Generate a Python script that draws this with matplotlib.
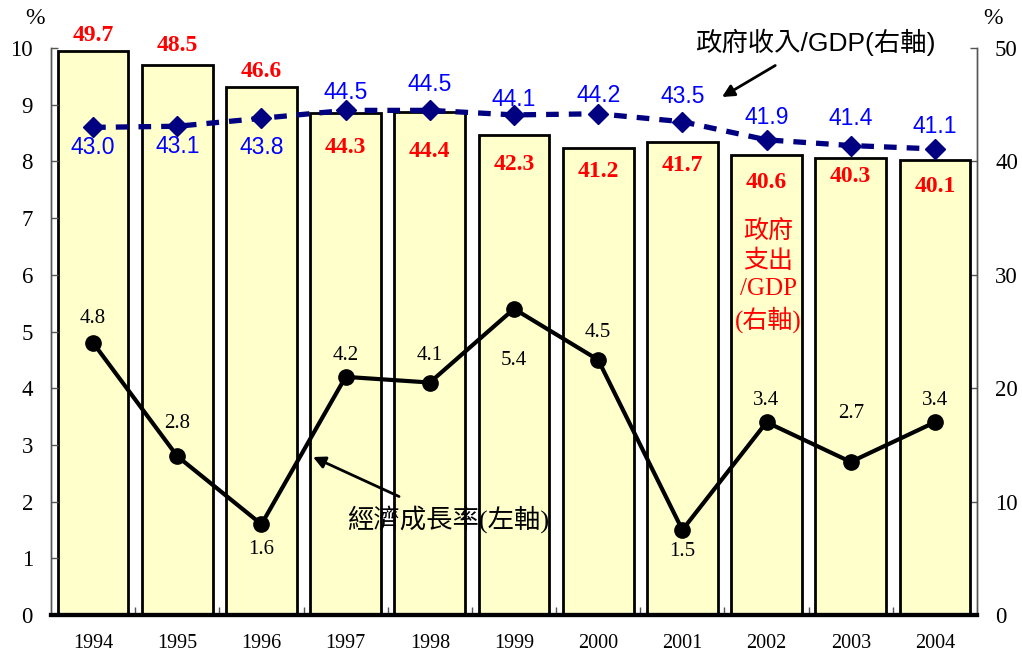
import matplotlib.pyplot as plt
import numpy as np

plt.rcParams['font.family'] = ['Liberation Serif', 'Noto Sans CJK TC']

years = ["1994", "1995", "1996", "1997", "1998", "1999", "2000", "2001", "2002", "2003", "2004"]
spending = [49.7, 48.5, 46.6, 44.3, 44.4, 42.3, 41.2, 41.7, 40.6, 40.3, 40.1]
revenue = [43.0, 43.1, 43.8, 44.5, 44.5, 44.1, 44.2, 43.5, 41.9, 41.4, 41.1]
growth = [4.8, 2.8, 1.6, 4.2, 4.1, 5.4, 4.5, 1.5, 3.4, 2.7, 3.4]

# label offsets in pixels (positive = above the point)
spend_dy = [16, 20, 15, -35, -40, -29, -24, -23, -28, -19, -26]
rev_dy = [-20, -20, -29, 18, 26, 15, 18, 25, 22, 27, 22]
growth_dy = [24, 33, -25, 21, 27, -52, 27, -22, 22, 48, 22]

cjk_sans = ['Liberation Sans', 'Noto Sans CJK TC']
cjk_serif = ['Liberation Serif', 'Noto Sans CJK TC']


def main():
    x = np.arange(len(years))
    fig = plt.figure(figsize=(10.22, 6.61), dpi=100)
    ax = fig.add_axes([51 / 1022, 46 / 661, 926 / 1022, 567 / 661])
    ax2 = ax.twinx()

    # bars + revenue on the right axis
    ax2.bar(x, spending, width=0.84, color="#FFFFCC", edgecolor="black", linewidth=2, zorder=2)
    ax2.plot(x, revenue, color="#000080", linestyle=(0, (2.4, 1.9)), linewidth=3.8,
             dash_capstyle="butt", marker="D", markersize=10, zorder=3)
    ax2.set_ylim(0, 50)
    ax2.set_yticks(range(0, 51, 10))

    for xi, v, dy in zip(x, spending, spend_dy):
        ax2.annotate(f"{v:.1f}", (xi, v), xytext=(0, dy), textcoords="offset pixels",
                     ha="center", va="center", color="red", fontsize=17, fontweight="bold")

    for xi, v, dy in zip(x, revenue, rev_dy):
        ax2.annotate(f"{v:.1f}", (xi, v), xytext=(0, dy), textcoords="offset pixels",
                     ha="center", va="center", color="blue", fontsize=16.5,
                     family="Liberation Sans")

    # growth on the left axis, drawn above the bars
    ax.set_zorder(ax2.get_zorder() + 1)
    ax.patch.set_visible(False)
    ax.plot(x, growth, color="black", linewidth=3, marker="o", markersize=11, zorder=4)
    for xi, v, dy in zip(x, growth, growth_dy):
        ax.annotate(f"{v:.1f}", (xi, v), xytext=(0, dy), textcoords="offset pixels",
                    ha="center", va="center", color="black", fontsize=15)

    ax.set_xlim(-0.5, len(years) - 0.5)
    ax.set_ylim(0, 10)
    ax.set_yticks(range(0, 11))
    ax.set_xticks(x)
    ax.set_xticklabels(years, fontsize=14.5)
    ax.set_xticks(x[:-1] + 0.5, minor=True)
    ax.tick_params(axis="x", which="major", length=0, pad=14)
    ax.tick_params(axis="x", which="minor", direction="in", length=6, width=1, color="#555555")
    ax.tick_params(axis="y", direction="in", length=5, width=1, color="#555555", labelsize=16.5, pad=13)
    ax2.tick_params(axis="y", direction="in", length=5, width=1, color="#555555", labelsize=16.5, pad=13)

    for a in (ax, ax2):
        a.spines["top"].set_visible(False)
        a.spines["left"].set_color("#555555")
        a.spines["right"].set_color("#555555")
        a.spines["left"].set_linewidth(1)
        a.spines["right"].set_linewidth(1)
        a.spines["bottom"].set_linewidth(3)

    fig.text(35 / 1022, 1 - 18 / 661, "%", fontsize=17, ha="center", va="center")
    fig.text(993 / 1022, 1 - 18 / 661, "%", fontsize=17, ha="center", va="center")

    # callouts
    ax.annotate("政府收入/GDP(右軸)", xy=(722 / 1022, 1 - 97 / 661), xycoords="figure fraction",
                xytext=(815 / 1022, 1 - 42 / 661), textcoords="figure fraction",
                ha="center", va="center", fontsize=19, family=cjk_sans,
                arrowprops=dict(arrowstyle="-|>", color="black", lw=2, shrinkA=10, shrinkB=0,
                                mutation_scale=18))
    ax.annotate("經濟成長率(左軸)", xy=(313 / 1022, 1 - 457 / 661), xycoords="figure fraction",
                xytext=(448 / 1022, 1 - 519 / 661), textcoords="figure fraction",
                ha="center", va="center", fontsize=19, family=cjk_serif,
                arrowprops=dict(arrowstyle="-|>", color="black", lw=2, shrinkA=10, shrinkB=0,
                                mutation_scale=18))
    fig.text(768 / 1022, 1 - 277 / 661, "政府\n支出\n/GDP\n(右軸)", color="red", fontsize=18,
             ha="center", va="center", linespacing=1.3, family=cjk_serif)

    fig.savefig("out.png", dpi=100)


if __name__ == "__main__":
    main()
